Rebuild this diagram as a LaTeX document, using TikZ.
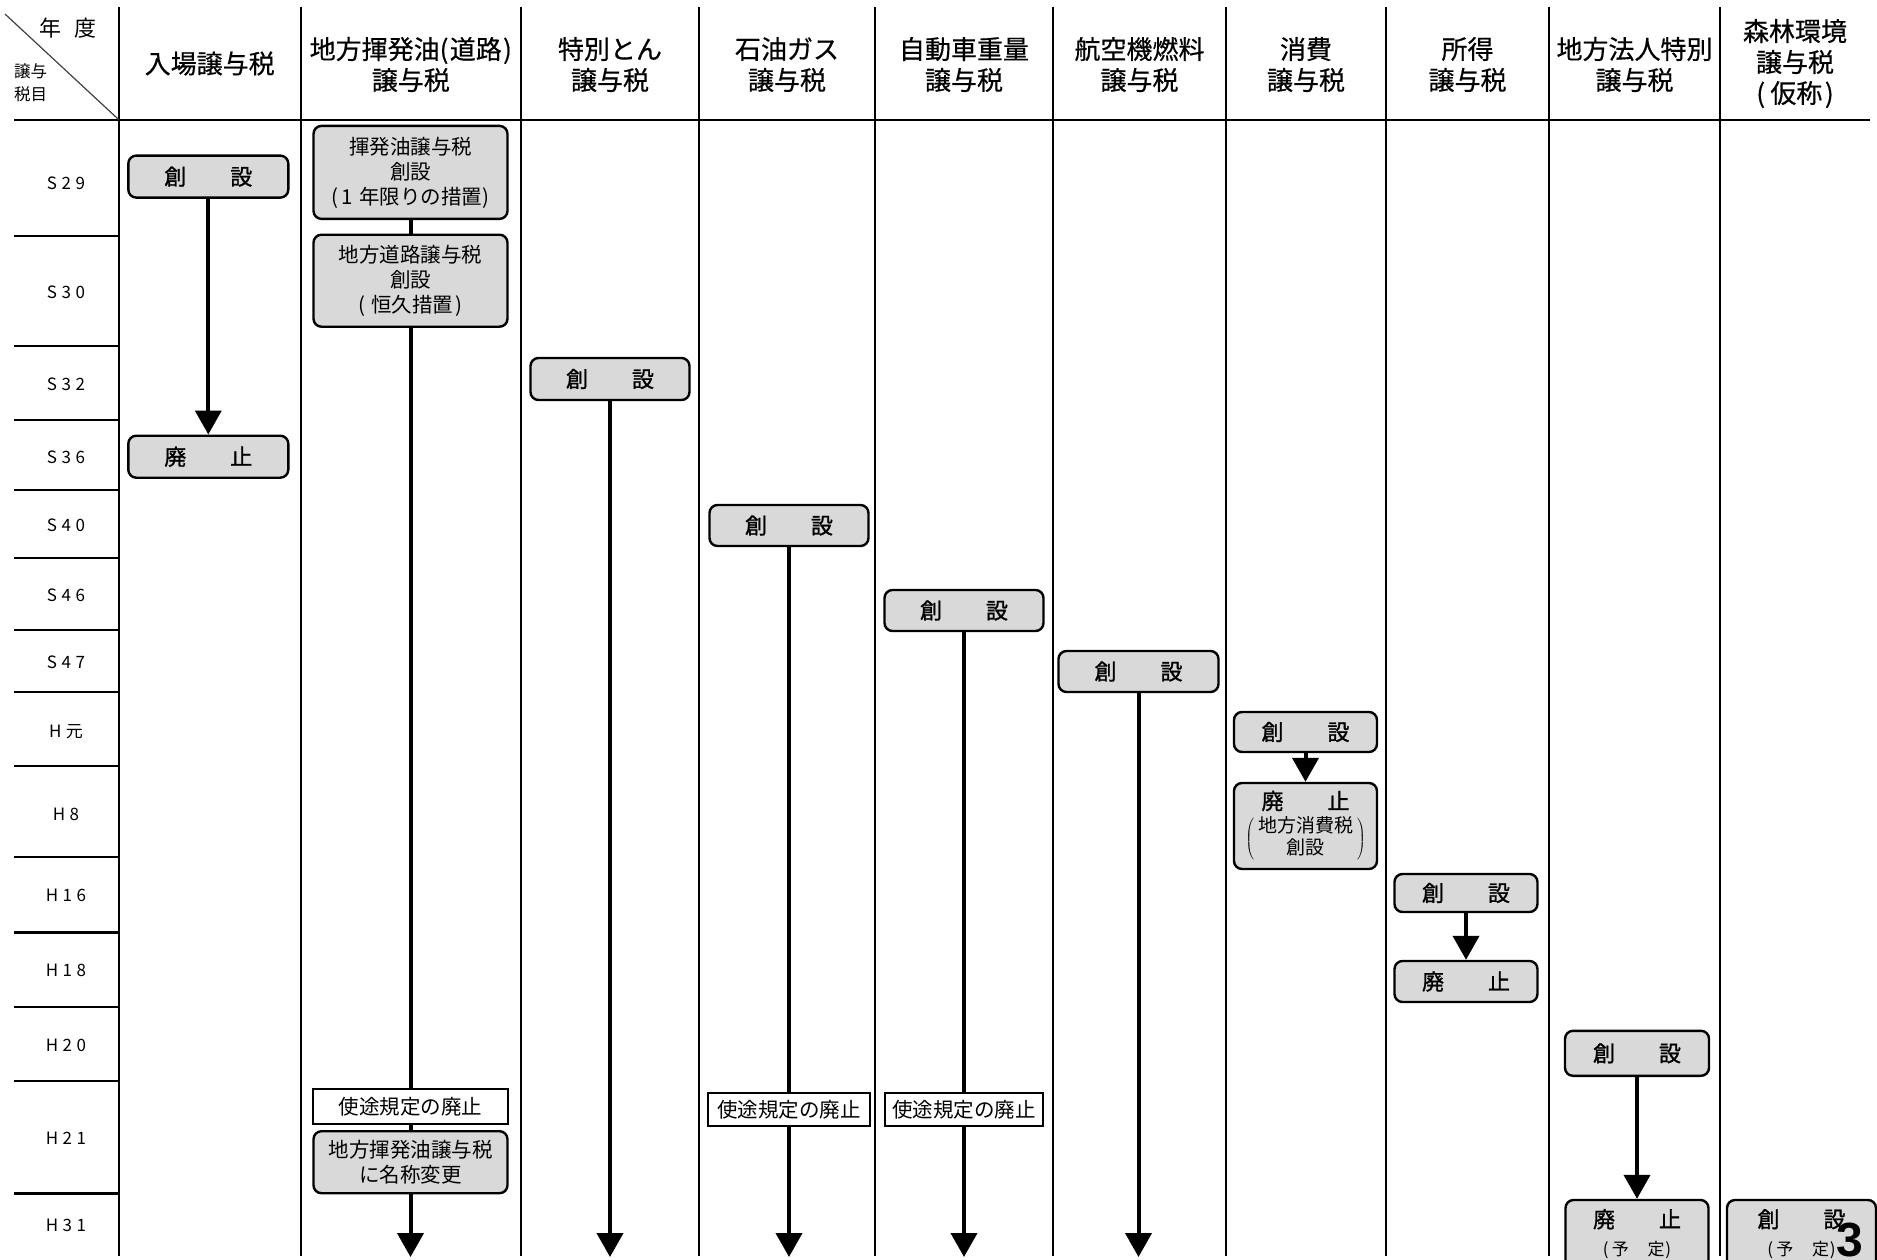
\documentclass[tikz,border=0pt]{standalone}
\usepackage{fontspec}
\setmainfont{Noto Sans CJK JP}
\newfontfamily\jpbold[FakeBold=1.2]{Noto Sans CJK JP}
\newfontfamily\jphead[FakeBold=0.5]{Noto Sans CJK JP}
\newfontfamily\pagefont{Liberation Sans}
\usetikzlibrary{arrows.meta}

% spacing between the letters of a year label
\newcommand\lsp{\hspace{4.5pt}}
% the small "(予 定)" line of the last boxes
\newcommand\yotei{{\normalfont\fontsize{17}{20}\selectfont(\hspace{0.2em}予\hspace{1.1em}定\hspace{0.05em})}}

\begin{document}
\begin{tikzpicture}[x=1pt,y=-1pt,
  rule/.style={line width=2.2pt},
  evt/.style={draw, line width=2.4pt, rounded corners=8pt, fill=black!15,
    align=center, inner sep=0pt, font=\fontsize{22}{27}\selectfont\jpbold},
  small/.style={font=\fontsize{20.5}{25}\selectfont},
  note/.style={draw, line width=2pt, fill=white, align=center, inner sep=0pt,
    font=\fontsize{20.5}{25}\selectfont},
  hd/.style={align=center, font=\fontsize{26}{31}\selectfont\jphead},
  yr/.style={font=\fontsize{17}{20}\selectfont},
  link/.style={line width=4pt},
  flow/.style={line width=4pt, -{Triangle[width=26pt,length=24pt]}},
]
\useasboundingbox (0,0) rectangle (1877,1259);
\clip (0,0) rectangle (1877,1259);

% ---- table rules ----
\foreach \x in {118.8,300.6,521,699,875,1053,1226,1386,1549,1720}
  \draw[rule] (\x,7) -- (\x,1256);
\draw[rule] (14,119.7) -- (1870,119.7);
\foreach \y in {235.8,346,420,489.6,557.8,629.6,691.9,766,857,932.5,1006.7,1081,1193.4}
  \draw[rule] (14,\y) -- (118.8,\y);
\draw[line width=1.2pt, black!75] (5,14) -- (118.8,119.7);

% ---- corner cell ----
\node[font=\fontsize{22}{26}\selectfont] (cy) at (68,28) {年\hspace{0.6em}度};
\node[font=\fontsize{16.5}{23}\selectfont, align=left, anchor=west, inner sep=0pt] (cz) at (14,83) {譲与\\税目};

% ---- column headers ----
\node[hd] (h1) at (209.7,63.5) {入場譲与税};
\node[hd] (h2) at (410.8,64.5) {地方揮発油(\hspace{0.05em}道路\hspace{0.05em})\\譲与税};
\node[hd] (h3) at (610,64.5) {特別とん\\譲与税};
\node[hd] (h4) at (787,64.5) {石油ガス\\譲与税};
\node[hd] (h5) at (964,64.5) {自動車重量\\譲与税};
\node[hd] (h6) at (1139.5,64.5) {航空機燃料\\譲与税};
\node[hd] (h7) at (1306,64.5) {消費\\譲与税};
\node[hd] (h8) at (1467.5,64.5) {所得\\譲与税};
\node[hd] (h9) at (1634.5,64.5) {地方法人特別\\譲与税};
\node[hd] (h10) at (1795,63.5) {森林環境\\譲与税\\(\hspace{0.2em}仮称\hspace{0.1em})};

% ---- year labels ----
\node[yr] (r1) at (66,183) {S\lsp{}2\lsp{}9};
\node[yr] (r2) at (66,292) {S\lsp{}3\lsp{}0};
\node[yr] (r3) at (66,384) {S\lsp{}3\lsp{}2};
\node[yr] (r4) at (66,457) {S\lsp{}3\lsp{}6};
\node[yr] (r5) at (66,525.5) {S\lsp{}4\lsp{}0};
\node[yr] (r6) at (66,595) {S\lsp{}4\lsp{}6};
\node[yr] (r7) at (66,662) {S\lsp{}4\lsp{}7};
\node[yr] (r8) at (66,731.4) {H\lsp{}元};
\node[yr] (r9) at (66,814) {H\lsp{}8};
\node[yr] (r10) at (66,895.4) {H\lsp{}1\lsp{}6};
\node[yr] (r11) at (66,970.8) {H\lsp{}1\lsp{}8};
\node[yr] (r12) at (66,1045) {H\lsp{}2\lsp{}0};
\node[yr] (r13) at (66,1138.3) {H\lsp{}2\lsp{}1};
\node[yr] (r14) at (66,1225.7) {H\lsp{}3\lsp{}1};

% ---- 入場譲与税 ----
\node[evt, minimum width=160, minimum height=42] (e1a) at (208.3,176.6) {創\hspace{2em}設};
\node[evt, minimum width=160, minimum height=42] (e1b) at (208.3,456.7) {廃\hspace{2em}止};
\draw[flow] (e1a) -- (e1b);

% ---- 地方揮発油(道路)譲与税 ----
\node[evt, small, minimum width=194, minimum height=93] (e2a) at (410.5,172.4)
  {揮発油譲与税\\創設\\(\hspace{0.15em}1\hspace{0.3em}年限りの措置)};
\node[evt, small, minimum width=194, minimum height=92] (e2b) at (410.5,280.7)
  {地方道路譲与税\\創設\\(\hspace{0.25em}恒久措置\hspace{0.1em})};
\node[note, minimum width=195, minimum height=35] (u2) at (410.5,1106.5) {使途規定の廃止};
\node[evt, small, minimum width=194, minimum height=62] (n2) at (410.5,1162.2) {地方揮発油譲与税\\に名称変更};
\coordinate (z2) at (410.5,1257);
\draw[link] (e2a) -- (e2b);
\draw[link] (e2b) -- (u2);
\draw[link] (u2) -- (n2);
\draw[flow] (n2) -- (z2);

% ---- 特別とん譲与税 ----
\node[evt, minimum width=159, minimum height=42] (e3) at (610,379) {創\hspace{2em}設};
\coordinate (z3) at (610,1257);
\draw[flow] (e3) -- (z3);

% ---- 石油ガス譲与税 ----
\node[evt, minimum width=159, minimum height=41] (e4) at (789,525.5) {創\hspace{2em}設};
\node[note, minimum width=162, minimum height=33] (u4) at (789,1109.5) {使途規定の廃止};
\coordinate (z4) at (789,1257);
\draw[link] (e4) -- (u4);
\draw[flow] (u4) -- (z4);

% ---- 自動車重量譲与税 ----
\node[evt, minimum width=159, minimum height=41] (e5) at (964,610.5) {創\hspace{2em}設};
\node[note, minimum width=158, minimum height=33] (u5) at (964,1109.5) {使途規定の廃止};
\coordinate (z5) at (964,1257);
\draw[link] (e5) -- (u5);
\draw[flow] (u5) -- (z5);

% ---- 航空機燃料譲与税 ----
\node[evt, minimum width=160, minimum height=41] (e6) at (1138.5,671.5) {創\hspace{2em}設};
\coordinate (z6) at (1138.5,1257);
\draw[flow] (e6) -- (z6);

% ---- 消費譲与税 ----
\node[evt, minimum width=143, minimum height=40] (e7a) at (1305.5,732) {創\hspace{2em}設};
\node[evt, minimum width=143, minimum height=86] (e7b) at (1305.5,826)
  {廃\hspace{2em}止\\[4pt]
   {\fontsize{19}{22}\selectfont\mdseries$\left(\vcenter{\hbox{\begin{tabular}{@{\hspace{4pt}}c@{\hspace{4pt}}}\normalfont\fontsize{19}{21.5}\selectfont 地方消費税\\\normalfont\fontsize{19}{21.5}\selectfont 創設\end{tabular}}}\right)$}};
\draw[flow] (e7a) -- (e7b);

% ---- 所得譲与税 ----
\node[evt, minimum width=143, minimum height=38] (e8a) at (1466,893) {創\hspace{2em}設};
\node[evt, minimum width=143, minimum height=41] (e8b) at (1466,981.5) {廃\hspace{2em}止};
\draw[flow] (e8a) -- (e8b);

% ---- 地方法人特別譲与税 ----
\node[evt, minimum width=144, minimum height=45] (e9a) at (1637,1053.3) {創\hspace{2em}設};
\node[evt, minimum width=143, minimum height=68] (e9b) at (1637,1234)
  {廃\hspace{2em}止\\[1pt]\yotei};
\draw[flow] (e9a) -- (e9b);

% ---- 森林環境譲与税(仮称) ----
\node[evt, minimum width=149, minimum height=68] (e10) at (1801.5,1234)
  {創\hspace{2em}設\\[1pt]\yotei};

% ---- page number ----
\node[anchor=north, inner sep=0pt, font=\fontsize{48}{48}\selectfont\pagefont\bfseries] (pg) at (1850,1223) {3};
\end{tikzpicture}
\end{document}
